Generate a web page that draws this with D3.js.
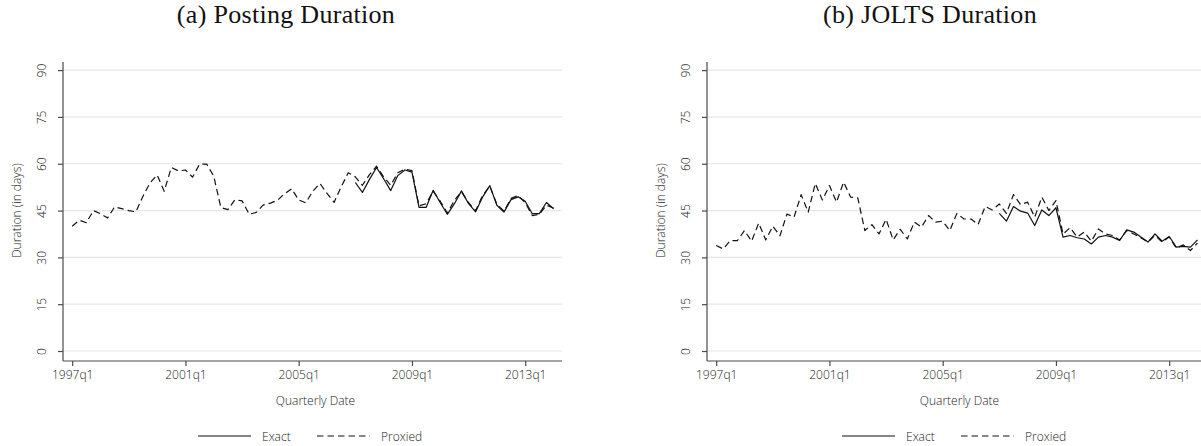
<!DOCTYPE html>
<html>
<head>
<meta charset="utf-8">
<script src="https://cdn.jsdelivr.net/npm/d3@7"></script>
<style>
  html, body { margin: 0; padding: 0; background: #fff; }
  svg text { font-family: "Open Sans", "Noto Sans", sans-serif; font-weight: 300; }
</style>
</head>
<body>
<svg id="chart" width="1201" height="446"></svg>
<script>
// Quarterly series start in 1997q1; the "exact" measure is only available from 2007q1.
const firstYear = 1997;
const exactStartIndex = 40; // 2007q1

const tickQuarters = ["1997q1", "2001q1", "2005q1", "2009q1", "2013q1"];
const yTicks = [0, 15, 30, 45, 60, 75, 90];

// (a) Posting duration, proxied, 1997q1 - 2014q1
const postingProxied = [
  40.0, 41.9, 41.1, 45.0, 44.0, 42.6, 46.2, 45.6, 45.0, 44.6,
  49.6, 53.9, 56.4, 51.2, 58.8, 57.7, 58.0, 55.7, 59.9, 59.9,
  56.0, 46.0, 45.3, 48.5, 48.1, 43.8, 44.4, 46.8, 47.4, 48.3,
  50.4, 52.0, 48.4, 47.5, 51.2, 53.7, 50.5, 47.6, 52.6, 57.1,
  55.8, 53.1, 56.5, 59.2, 55.8, 53.1, 57.1, 58.3, 57.8, 46.5,
  47.2, 51.2, 48.0, 44.2, 48.3, 51.0, 47.5, 45.0, 49.9, 52.8,
  47.0, 44.8, 48.9, 49.8, 47.5, 43.4, 43.8, 46.7, 45.8
];
// (a) Posting duration, exact, 2007q1 - 2014q1
const postingExact = [
  54.0, 50.8, 55.0, 58.8, 55.2, 51.4, 56.2, 58.0, 57.3, 46.0,
  46.0, 51.5, 47.5, 43.8, 47.2, 51.3, 47.2, 44.6, 49.4, 53.0,
  46.7, 44.5, 48.5, 49.4, 48.0, 44.0, 44.0, 47.6, 45.6
];

// (b) JOLTS duration, proxied, 1997q1 - 2014q1
const joltsProxied = [
  33.8, 32.7, 35.4, 35.4, 38.6, 35.2, 41.0, 35.6, 40.0, 36.9,
  43.9, 42.9, 50.1, 44.5, 53.7, 48.4, 53.0, 47.7, 54.1, 49.3,
  49.1, 38.6, 40.5, 37.5, 42.2, 35.6, 39.0, 35.9, 41.3, 39.7,
  43.4, 41.3, 41.6, 38.6, 44.1, 42.3, 42.3, 40.5, 46.3, 45.2,
  47.1, 44.1, 50.1, 46.9, 47.7, 42.9, 49.3, 45.0, 48.2, 37.5,
  39.5, 36.5, 38.1, 35.2, 39.1, 37.5, 37.0, 35.6, 38.6, 37.5,
  36.3, 34.9, 37.0, 34.9, 36.5, 33.0, 34.0, 32.2, 34.6
];
// (b) JOLTS duration, exact, 2007q1 - 2014q1
const joltsExact = [
  44.1, 41.6, 46.3, 44.8, 44.2, 40.2, 45.2, 43.4, 45.9, 36.5,
  37.0, 36.3, 35.9, 34.3, 36.5, 37.0, 36.5, 35.4, 38.8, 38.1,
  36.5, 34.9, 37.5, 35.2, 36.7, 33.3, 33.5, 33.3, 35.6
];

const panels = [
  { title: "(a) Posting Duration", offset: 0, proxied: postingProxied, exact: postingExact },
  { title: "(b) JOLTS Duration", offset: 644, proxied: joltsProxied, exact: joltsExact }
];

const legendItems = [
  { label: "Exact", dash: null },
  { label: "Proxied", dash: "6.5,4" }
];

// quarter label -> index counted from 1997q1
function quarterIndex(label) {
  const y = +label.slice(0, 4), q = +label.slice(5);
  return (y - firstYear) * 4 + (q - 1);
}

const svg = d3.select("#chart");
const textColor = "#222";
const axisColor = "#4a4a4a";

// panel geometry (panel-local pixels)
const plotLeft = 63, plotRight = 562, plotTop = 62, plotBottom = 361;

panels.forEach(p => {
  const g = svg.append("g").attr("transform", `translate(${p.offset},0)`);

  const x = d3.scaleLinear().domain([-1.3, 69.2]).range([plotLeft, plotRight]);
  const y = d3.scaleLinear().domain([-3.2, 92.6]).range([plotBottom, plotTop]);

  // title
  g.append("text")
    .attr("x", 286).attr("y", 23)
    .attr("text-anchor", "middle")
    .style("font-family", "'Liberation Serif', 'DejaVu Serif', serif")
    .style("font-weight", "400")
    .style("font-size", "26px")
    .style("letter-spacing", "0.3px")
    .attr("fill", "#111")
    .text(p.title);

  // horizontal gridlines
  g.append("g").selectAll("line").data(yTicks).join("line")
    .attr("x1", plotLeft).attr("x2", plotRight)
    .attr("y1", d => y(d)).attr("y2", d => y(d))
    .attr("stroke", "#e6e6e6").attr("stroke-width", 1.2);

  // y axis
  const yAxis = g.append("g").attr("transform", `translate(${plotLeft},0)`)
    .call(d3.axisLeft(y).tickValues(yTicks).tickSize(5).tickSizeOuter(0));
  yAxis.select(".domain").attr("stroke", axisColor).attr("stroke-width", 1.2)
    .attr("d", `M0,${plotBottom}V${plotTop}`);
  yAxis.selectAll(".tick line").attr("stroke", axisColor).attr("stroke-width", 1.2);
  yAxis.selectAll(".tick text")
    .attr("x", null).attr("dy", null)
    .attr("transform", "translate(-17,0) rotate(-90)")
    .attr("text-anchor", "middle")
    .attr("fill", textColor)
    .style("font-size", "12px");

  // x axis
  const xAxis = g.append("g").attr("transform", `translate(0,${plotBottom})`)
    .call(d3.axisBottom(x).tickValues(tickQuarters.map(quarterIndex))
      .tickFormat((d, i) => tickQuarters[i]).tickSize(5).tickSizeOuter(0));
  xAxis.select(".domain").attr("stroke", axisColor).attr("stroke-width", 1.2)
    .attr("d", `M${plotLeft},0H${plotRight}`);
  xAxis.selectAll(".tick line").attr("stroke", axisColor).attr("stroke-width", 1.2);
  xAxis.selectAll(".tick text")
    .attr("y", 9).attr("dy", "0.71em")
    .attr("fill", textColor)
    .style("font-size", "12px");

  // axis titles
  g.append("text")
    .attr("transform", `translate(21,${(y(0) + y(90)) / 2}) rotate(-90)`)
    .attr("text-anchor", "middle")
    .attr("fill", textColor)
    .style("font-size", "12px")
    .text("Duration (in days)");
  g.append("text")
    .attr("x", (plotLeft + plotRight) / 2 + 3).attr("y", 405)
    .attr("text-anchor", "middle")
    .attr("fill", textColor)
    .style("font-size", "12px")
    .text("Quarterly Date");

  // series
  const line = d3.line().x(d => x(d.i)).y(d => y(d.v));
  const exactPts = p.exact.map((v, k) => ({ i: exactStartIndex + k, v }));
  const proxPts = p.proxied.map((v, k) => ({ i: k, v }));

  g.append("path").datum(exactPts).attr("d", line)
    .attr("fill", "none").attr("stroke", "#111").attr("stroke-width", 1.2)
    .attr("stroke-linejoin", "round");
  g.append("path").datum(proxPts).attr("d", line)
    .attr("fill", "none").attr("stroke", "#111").attr("stroke-width", 1.2)
    .attr("stroke-dasharray", "6.5,4").attr("stroke-linejoin", "round");

  // legend
  const lg = g.append("g").attr("transform", "translate(198,436)");
  const itemX = [0, 119];
  legendItems.forEach((it, k) => {
    const ig = lg.append("g").attr("transform", `translate(${itemX[k]},0)`);
    ig.append("line").attr("x1", 0).attr("x2", 53).attr("y1", 0).attr("y2", 0)
      .attr("stroke", "#111").attr("stroke-width", 1.2)
      .attr("stroke-dasharray", it.dash);
    ig.append("text").attr("x", 64).attr("y", 4.5)
      .attr("fill", textColor).style("font-size", "12px")
      .text(it.label);
  });
});
</script>
</body>
</html>
